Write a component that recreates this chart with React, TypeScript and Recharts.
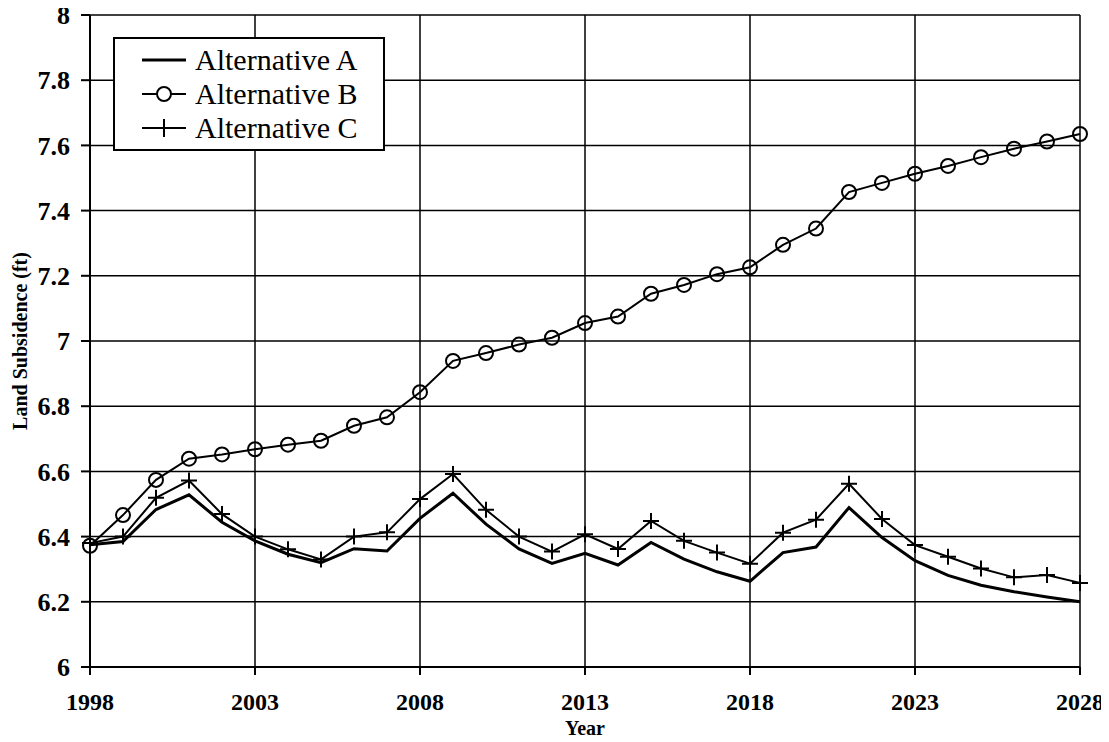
import React from 'react';
import { LineChart, Line, XAxis, YAxis, CartesianGrid, Legend } from 'recharts';

const years = [
  1998, 1999, 2000, 2001, 2002, 2003, 2004, 2005, 2006, 2007,
  2008, 2009, 2010, 2011, 2012, 2013, 2014, 2015, 2016, 2017,
  2018, 2019, 2020, 2021, 2022, 2023, 2024, 2025, 2026, 2027, 2028,
];
const altA = [
  6.375, 6.385, 6.483, 6.528, 6.444, 6.387, 6.346, 6.32, 6.363, 6.356,
  6.456, 6.533, 6.438, 6.362, 6.318, 6.349, 6.313, 6.382, 6.331, 6.292,
  6.263, 6.351, 6.368, 6.489, 6.397, 6.326, 6.281, 6.251, 6.231, 6.215, 6.2,
];
const altB = [
  6.372, 6.466, 6.574, 6.639, 6.652, 6.668, 6.682, 6.694, 6.74, 6.766,
  6.843, 6.939, 6.963, 6.989, 7.01, 7.055, 7.075, 7.145, 7.172, 7.205,
  7.226, 7.295, 7.345, 7.457, 7.485, 7.513, 7.537, 7.564, 7.59, 7.612, 7.635,
];
const altC = [
  6.38, 6.4, 6.519, 6.572, 6.469, 6.4, 6.361, 6.33, 6.4, 6.413,
  6.515, 6.592, 6.482, 6.4, 6.354, 6.407, 6.362, 6.448, 6.387, 6.351,
  6.317, 6.412, 6.452, 6.562, 6.454, 6.374, 6.338, 6.302, 6.275, 6.282, 6.258,
];
const seriesNames = ['Alternative A', 'Alternative B', 'Alternative C'];
const yTicks = [6, 6.2, 6.4, 6.6, 6.8, 7, 7.2, 7.4, 7.6, 7.8, 8];
const xTicks = [1998, 2003, 2008, 2013, 2018, 2023, 2028];

const data = years.map((y, i) => ({ year: y, A: altA[i], B: altB[i], C: altC[i] }));

const FONT = '"Liberation Serif", "Times New Roman", serif';

const PlusDot = (props: any) => {
  const { cx, cy, index } = props;
  if (cx == null || cy == null) return <g key={`p${index}`} />;
  return (
    <path
      key={`p${index}`}
      d={`M${cx - 8},${cy}H${cx + 8}M${cx},${cy - 8}V${cy + 8}`}
      stroke="#000"
      strokeWidth={2}
      fill="none"
    />
  );
};

const LegendContent = () => {
  const rows = [
    { name: seriesNames[0], kind: 'A' },
    { name: seriesNames[1], kind: 'B' },
    { name: seriesNames[2], kind: 'C' },
  ];
  return (
    <div
      style={{
        width: 268,
        height: 106,
        border: '2px solid #000',
        background: '#fff',
        paddingTop: 4,
        boxSizing: 'content-box',
        fontFamily: FONT,
        fontSize: 30,
        color: '#000',
      }}
    >
      {rows.map((r) => (
        <div key={r.kind} style={{ display: 'flex', alignItems: 'center', height: 34, lineHeight: '34px' }}>
          <svg width={44} height={20} style={{ marginLeft: 27, display: 'block' }}>
            <line x1={0} y1={10} x2={44} y2={10} stroke="#000" strokeWidth={r.kind === 'A' ? 3 : 2} />
            {r.kind === 'B' && <circle cx={22} cy={10} r={7} stroke="#000" strokeWidth={2} fill="#fff" />}
            {r.kind === 'C' && <path d="M22,1V19" stroke="#000" strokeWidth={2} />}
          </svg>
          <span style={{ marginLeft: 9, whiteSpace: 'nowrap' }}>{r.name}</span>
        </div>
      ))}
    </div>
  );
};

export default function App() {
  return (
    <div style={{ position: 'relative', width: 1109, height: 742, marginTop: -8, marginLeft: -8 }}>
      <LineChart
        width={1109}
        height={742}
        data={data}
        margin={{ top: 15, right: 29, left: 18, bottom: 15 }}
      >
        <CartesianGrid
          stroke="#000"
          strokeWidth={1.5}
          horizontal
          vertical
          verticalValues={xTicks}
          horizontalValues={yTicks}
        />
        <XAxis
          dataKey="year"
          type="number"
          domain={[1998, 2028]}
          ticks={xTicks}
          interval={0}
          height={60}
          tickSize={8}
          tickMargin={18}
          axisLine={{ stroke: '#000', strokeWidth: 2 }}
          tickLine={{ stroke: '#000', strokeWidth: 2 }}
          tick={{ fill: '#000', fontSize: 24, fontWeight: 'bold', fontFamily: FONT }}
          label={{
            content: (p: any) => {
              const vb = p.viewBox || {};
              return (
                <text
                  x={(vb.x ?? 0) + (vb.width ?? 0) / 2}
                  y={735}
                  textAnchor="middle"
                  fill="#000"
                  fontSize={20}
                  fontWeight="bold"
                  fontFamily={FONT}
                >
                  Year
                </text>
              );
            },
          }}
        />
        <YAxis
          type="number"
          domain={[6, 8]}
          ticks={yTicks}
          interval={0}
          width={72}
          tickSize={9}
          tickMargin={11}
          tickFormatter={(v: number) => String(Number(v.toFixed(1)))}
          axisLine={{ stroke: '#000', strokeWidth: 2 }}
          tickLine={{ stroke: '#000', strokeWidth: 2 }}
          tick={{ fill: '#000', fontSize: 26, fontWeight: 'bold', fontFamily: FONT }}
          label={{
            content: (p: any) => {
              const vb = p.viewBox || {};
              const cy = (vb.y ?? 0) + (vb.height ?? 0) / 2;
              return (
                <text
                  x={20}
                  y={cy}
                  transform={`rotate(-90, 20, ${cy})`}
                  textAnchor="middle"
                  dominantBaseline="central"
                  fill="#000"
                  fontSize={20}
                  fontWeight="bold"
                  fontFamily={FONT}
                >
                  Land Subsidence (ft)
                </text>
              );
            },
          }}
        />
        <Legend
          layout="vertical"
          align="center"
          verticalAlign="middle"
          content={() => <LegendContent />}
          wrapperStyle={{ position: 'absolute', left: 113, top: 37, width: 272, height: 112, margin: 0 }}
        />
        <Line
          type="linear"
          dataKey="A"
          name={seriesNames[0]}
          stroke="#000"
          strokeWidth={3}
          dot={false}
          isAnimationActive={false}
        />
        <Line
          type="linear"
          dataKey="B"
          name={seriesNames[1]}
          stroke="#000"
          strokeWidth={2}
          dot={{ r: 7, stroke: '#000', strokeWidth: 2, fill: 'none' }}
          isAnimationActive={false}
        />
        <Line
          type="linear"
          dataKey="C"
          name={seriesNames[2]}
          stroke="#000"
          strokeWidth={2}
          dot={PlusDot}
          isAnimationActive={false}
        />
      </LineChart>
    </div>
  );
}
